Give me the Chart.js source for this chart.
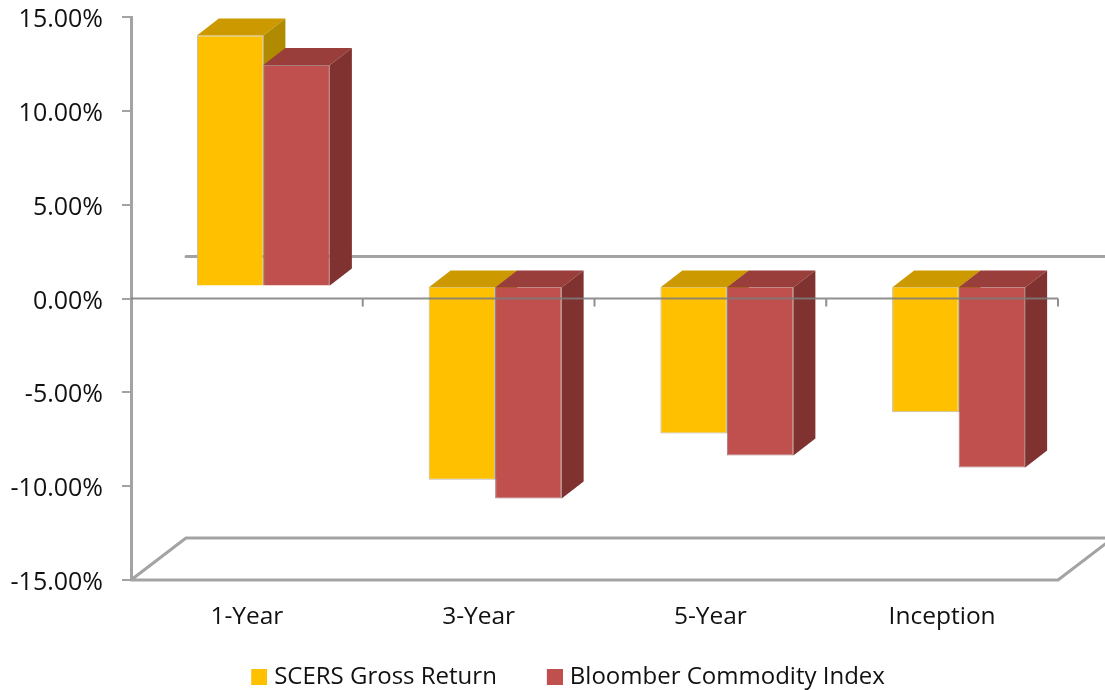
<!DOCTYPE html>
<html>
<head>
<meta charset="utf-8">
<style>html,body{margin:0;padding:0;background:#fff}canvas{display:block}</style>
<script src="https://cdn.jsdelivr.net/npm/chart.js@4"></script>
</head>
<body>
<canvas id="c" width="1105" height="690"></canvas>
<script>
const categories = ['1-Year', '3-Year', '5-Year', 'Inception'];
const scersGrossReturn = [13.37, -10.3, -7.83, -6.7];
const bloomberCommodityIndex = [11.8, -11.3, -9.0, -9.64];
const seriesNames = ['SCERS Gross Return', 'Bloomber Commodity Index'];

const FONT = '"Open Sans"';
const AXIS = '#a3a3a3';
const faces = [
  {top: '#CC9A00', side: '#B08A00'},
  {top: '#9A3E3C', side: '#7F3230'}
];

function legendSwatch(color) {
  const cv = document.createElement('canvas');
  cv.width = 69; cv.height = 16;
  const g = cv.getContext('2d');
  g.fillStyle = color;
  g.fillRect(53, 0, 16, 16);
  return cv;
}

const frame3d = {
  id: 'frame3d',
  afterLayout(chart) {
    chart.legend.left += 30;
    chart.legend.top += 1;
    const s = chart.scales.y, drawLabels = s.drawLabels;
    s.drawLabels = function (area) {
      chart.ctx.save();
      chart.ctx.translate(0, 3);
      drawLabels.call(s, area);
      chart.ctx.restore();
    };
  },
  beforeDatasetsDraw(chart) {
    const {ctx, scales: {y}, chartArea: a} = chart;
    const z = y.getPixelForValue(0), b = y.getPixelForValue(-15);
    const dx = 22, dy = 17;
    ctx.save();
    ctx.strokeStyle = AXIS; ctx.lineCap = 'round'; ctx.lineJoin = 'round';
    ctx.lineWidth = 3;
    ctx.beginPath();
    ctx.moveTo(a.left, b); ctx.lineTo(a.left + 55, b - 42); ctx.lineTo(1105, b - 42);
    ctx.moveTo(a.left, b); ctx.lineTo(a.right, b); ctx.lineTo(a.right + 55, b - 42);
    ctx.moveTo(a.left + 55, z - 42); ctx.lineTo(1105, z - 42);
    ctx.stroke();
    ctx.restore();

    ctx.save();
    ctx.translate(16.5, -12);
    chart.getDatasetMeta(0).controller.draw();
    [0, 1].forEach(i => {
      const meta = chart.getDatasetMeta(i), f = faces[i];
      if (i) meta.controller.draw();
      meta.data.forEach(el => {
        const l = el.x - el.width / 2, r = el.x + el.width / 2;
        const t = Math.min(el.y, el.base), bt = Math.max(el.y, el.base);
        ctx.fillStyle = f.top;
        ctx.beginPath();
        ctx.moveTo(l, t); ctx.lineTo(r, t); ctx.lineTo(r + dx, t - dy); ctx.lineTo(l + dx, t - dy);
        ctx.closePath(); ctx.fill();
        ctx.fillStyle = f.side;
        ctx.beginPath();
        ctx.moveTo(r, t); ctx.lineTo(r + dx, t - dy); ctx.lineTo(r + dx, bt - dy); ctx.lineTo(r, bt);
        ctx.closePath(); ctx.fill();
      });
    });
    ctx.restore();

    ctx.save();
    ctx.strokeStyle = 'rgba(125,125,125,0.85)'; ctx.lineWidth = 2;
    ctx.beginPath();
    ctx.moveTo(a.left, z); ctx.lineTo(a.right, z);
    categories.forEach((c, i) => {
      const px = a.left + (a.right - a.left) * (i + 1) / categories.length;
      ctx.moveTo(px, z); ctx.lineTo(px, z + 8);
    });
    ctx.stroke();
    ctx.restore();
    return false;
  }
};

const swatches = [legendSwatch('#FFC000'), legendSwatch('#C0504D')];

new Chart(document.getElementById('c'), {
  type: 'bar',
  data: {
    labels: categories,
    datasets: [
      {label: seriesNames[0], data: scersGrossReturn, backgroundColor: '#FFC000', borderColor: '#b9b9b9', borderWidth: 1},
      {label: seriesNames[1], data: bloomberCommodityIndex, backgroundColor: '#C0504D', borderColor: '#a87a78', borderWidth: 1}
    ]
  },
  options: {
    responsive: false,
    animation: false,
    layout: {padding: {top: 17, right: 47, left: 0, bottom: -8}},
    datasets: {bar: {barPercentage: 1, categoryPercentage: 0.574}},
    scales: {
      x: {
        grid: {display: false},
        border: {display: false},
        ticks: {color: '#111', font: {family: FONT, size: 24.5}, padding: 14, maxRotation: 0},
        afterFit(s) { s.height = 82; }
      },
      y: {
        min: -15, max: 15,
        grid: {drawOnChartArea: false, color: AXIS, tickLength: 9, lineWidth: 2},
        border: {color: AXIS, width: 3},
        ticks: {stepSize: 5, color: '#111', font: {family: FONT, size: 25}, padding: 19,
          callback: v => v.toFixed(2) + '%'},
        afterFit(s) { s.width = 131; s.paddingTop = 0; s.paddingBottom = 0; }
      }
    },
    plugins: {
      tooltip: {enabled: false},
      legend: {
        position: 'bottom',
        labels: {
          usePointStyle: true, pointStyleWidth: 59, boxHeight: 16,
          color: '#111', font: {family: FONT, size: 24}, padding: 2,
          generateLabels(chart) {
            return Chart.defaults.plugins.legend.labels.generateLabels(chart)
              .map((item, i) => ({...item, pointStyle: swatches[i]}));
          }
        }
      }
    }
  },
  plugins: [frame3d]
});
</script>
</body>
</html>
